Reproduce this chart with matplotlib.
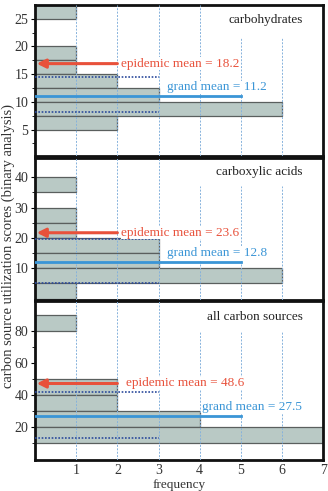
import numpy as np
import matplotlib.pyplot as plt

# --- dane: histogramy (poziome) ---
titles = ["carbohydrates", "carboxylic acids", "all carbon sources"]
bin_width = [2.5, 5, 10]
bin_bottoms = [
    [25, 17.5, 15, 12.5, 10, 7.5, 5],
    [35, 25, 20, 15, 10, 5, 0],
    [80, 40, 30, 20, 10],
]
counts = [
    [1, 1, 1, 2, 3, 6, 2],
    [1, 1, 1, 3, 3, 6, 1],
    [1, 2, 2, 4, 7],
]
epidemic_label = [18.2, 23.6, 48.6]
epidemic_arrow_y = [16.9, 21.7, 47.4]
grand_label = [11.2, 12.8, 27.5]
grand_line_y = [11.1, 12.2, 27.2]
sd_upper = [14.4, 19.7, 42.1]
sd_lower = [8.1, 5.2, 13.2]
grand_text_xy = [(3.2, 12.6), (3.2, 15.0), (4.05, 33.0)]
epi_text_x = [2.1, 2.1, 2.2]
ylims = [(0.2, 27.5), (-0.3, 46.3), (-0.5, 99)]
yticks = [[5, 10, 15, 20, 25], [10, 20, 30, 40], [20, 40, 60, 80]]
xticks = [1, 2, 3, 4, 5, 6, 7]
grid_top = [[1, 1, 1, 1, 0.79, 0.79], [1, 1, 1, 0.80, 0.80, 0.80], [1, 1, 1, 0.81, 0.81, 0.81]]

red = "#e8513b"
blue = "#3a95d6"
dblue = "#2b4a9c"
gridc = "#86b2dc"
face = "#b9c9c5"
edge = "#5a5f5e"

plt.rcParams['font.family'] = ['Liberation Serif', 'DejaVu Serif']

fig = plt.figure(figsize=(3.28, 4.91), dpi=100)
boxes = [(0.682, 0.990), (0.390, 0.678), (0.063, 0.387)]
axes = []
for i, (b, t) in enumerate(boxes):
    ax = fig.add_axes([0.107, b, 0.878, t - b])
    axes.append(ax)

    ax.barh(bin_bottoms[i], counts[i], height=bin_width[i], left=0, align='edge',
            color=face, edgecolor=edge, linewidth=0.9, zorder=2)

    for k, x in enumerate(range(1, 7)):
        ax.axvline(x, ymin=0, ymax=grid_top[i][k], color=gridc, lw=0.7,
                   ls=(0, (2, 1.5)), zorder=3)

    # srednia +/- SD
    ax.plot([0, 3], [sd_upper[i]] * 2, color=dblue, lw=1.2, ls=(0, (1, 1)), zorder=4)
    ax.plot([0, 3], [sd_lower[i]] * 2, color=dblue, lw=1.2, ls=(0, (1, 1)), zorder=4)
    ax.plot([0, 5], [grand_line_y[i]] * 2, color=blue, lw=2.0, zorder=4)

    ax.annotate("", xy=(0.04, epidemic_arrow_y[i]), xytext=(2, epidemic_arrow_y[i]),
                arrowprops=dict(arrowstyle='-|>', color=red, lw=2.2, mutation_scale=13,
                                shrinkA=0, shrinkB=0), zorder=5)
    ax.text(epi_text_x[i], epidemic_arrow_y[i], f"epidemic mean = {epidemic_label[i]}",
            color=red, fontsize=9.5, va='center', ha='left', zorder=6,
            bbox=dict(facecolor='white', edgecolor='none', pad=0.5))
    gx, gy = grand_text_xy[i]
    ax.text(gx, gy, f"grand mean = {grand_label[i]}", color=blue, fontsize=9.5,
            va='center', ha='left', zorder=6,
            bbox=dict(facecolor='white', edgecolor='none', pad=0.5))

    ax.text(0.93, 0.90, titles[i], transform=ax.transAxes, ha='right', va='center',
            fontsize=9.5, color='#222222', zorder=6)

    ax.set_xlim(0, 7)
    ax.set_ylim(*ylims[i])
    ax.set_yticks(yticks[i])
    ax.set_yticks(np.array(yticks[i]) - (yticks[i][1] - yticks[i][0]) / 2, minor=True)
    ax.tick_params(axis='y', which='major', length=3, width=0.8, labelsize=10, pad=2,
                   labelcolor='#333333')
    ax.tick_params(axis='y', which='minor', length=2, width=0.6)
    ax.set_xticks(xticks)
    ax.tick_params(axis='x', length=0, labelsize=10, pad=3, labelcolor='#333333')
    if i < 2:
        ax.tick_params(axis='x', labelbottom=False)
    for s in ax.spines.values():
        s.set_linewidth(2.0)
        s.set_color('#111111')

axes[2].set_xlabel("frequency", fontsize=9.5, labelpad=1, color='#333333')
fig.text(0.024, 0.50, "carbon source utilization scores (binary analysis)",
         rotation=90, ha='center', va='center', fontsize=10.5, color='#333333')

fig.savefig("out.png", dpi=100)
